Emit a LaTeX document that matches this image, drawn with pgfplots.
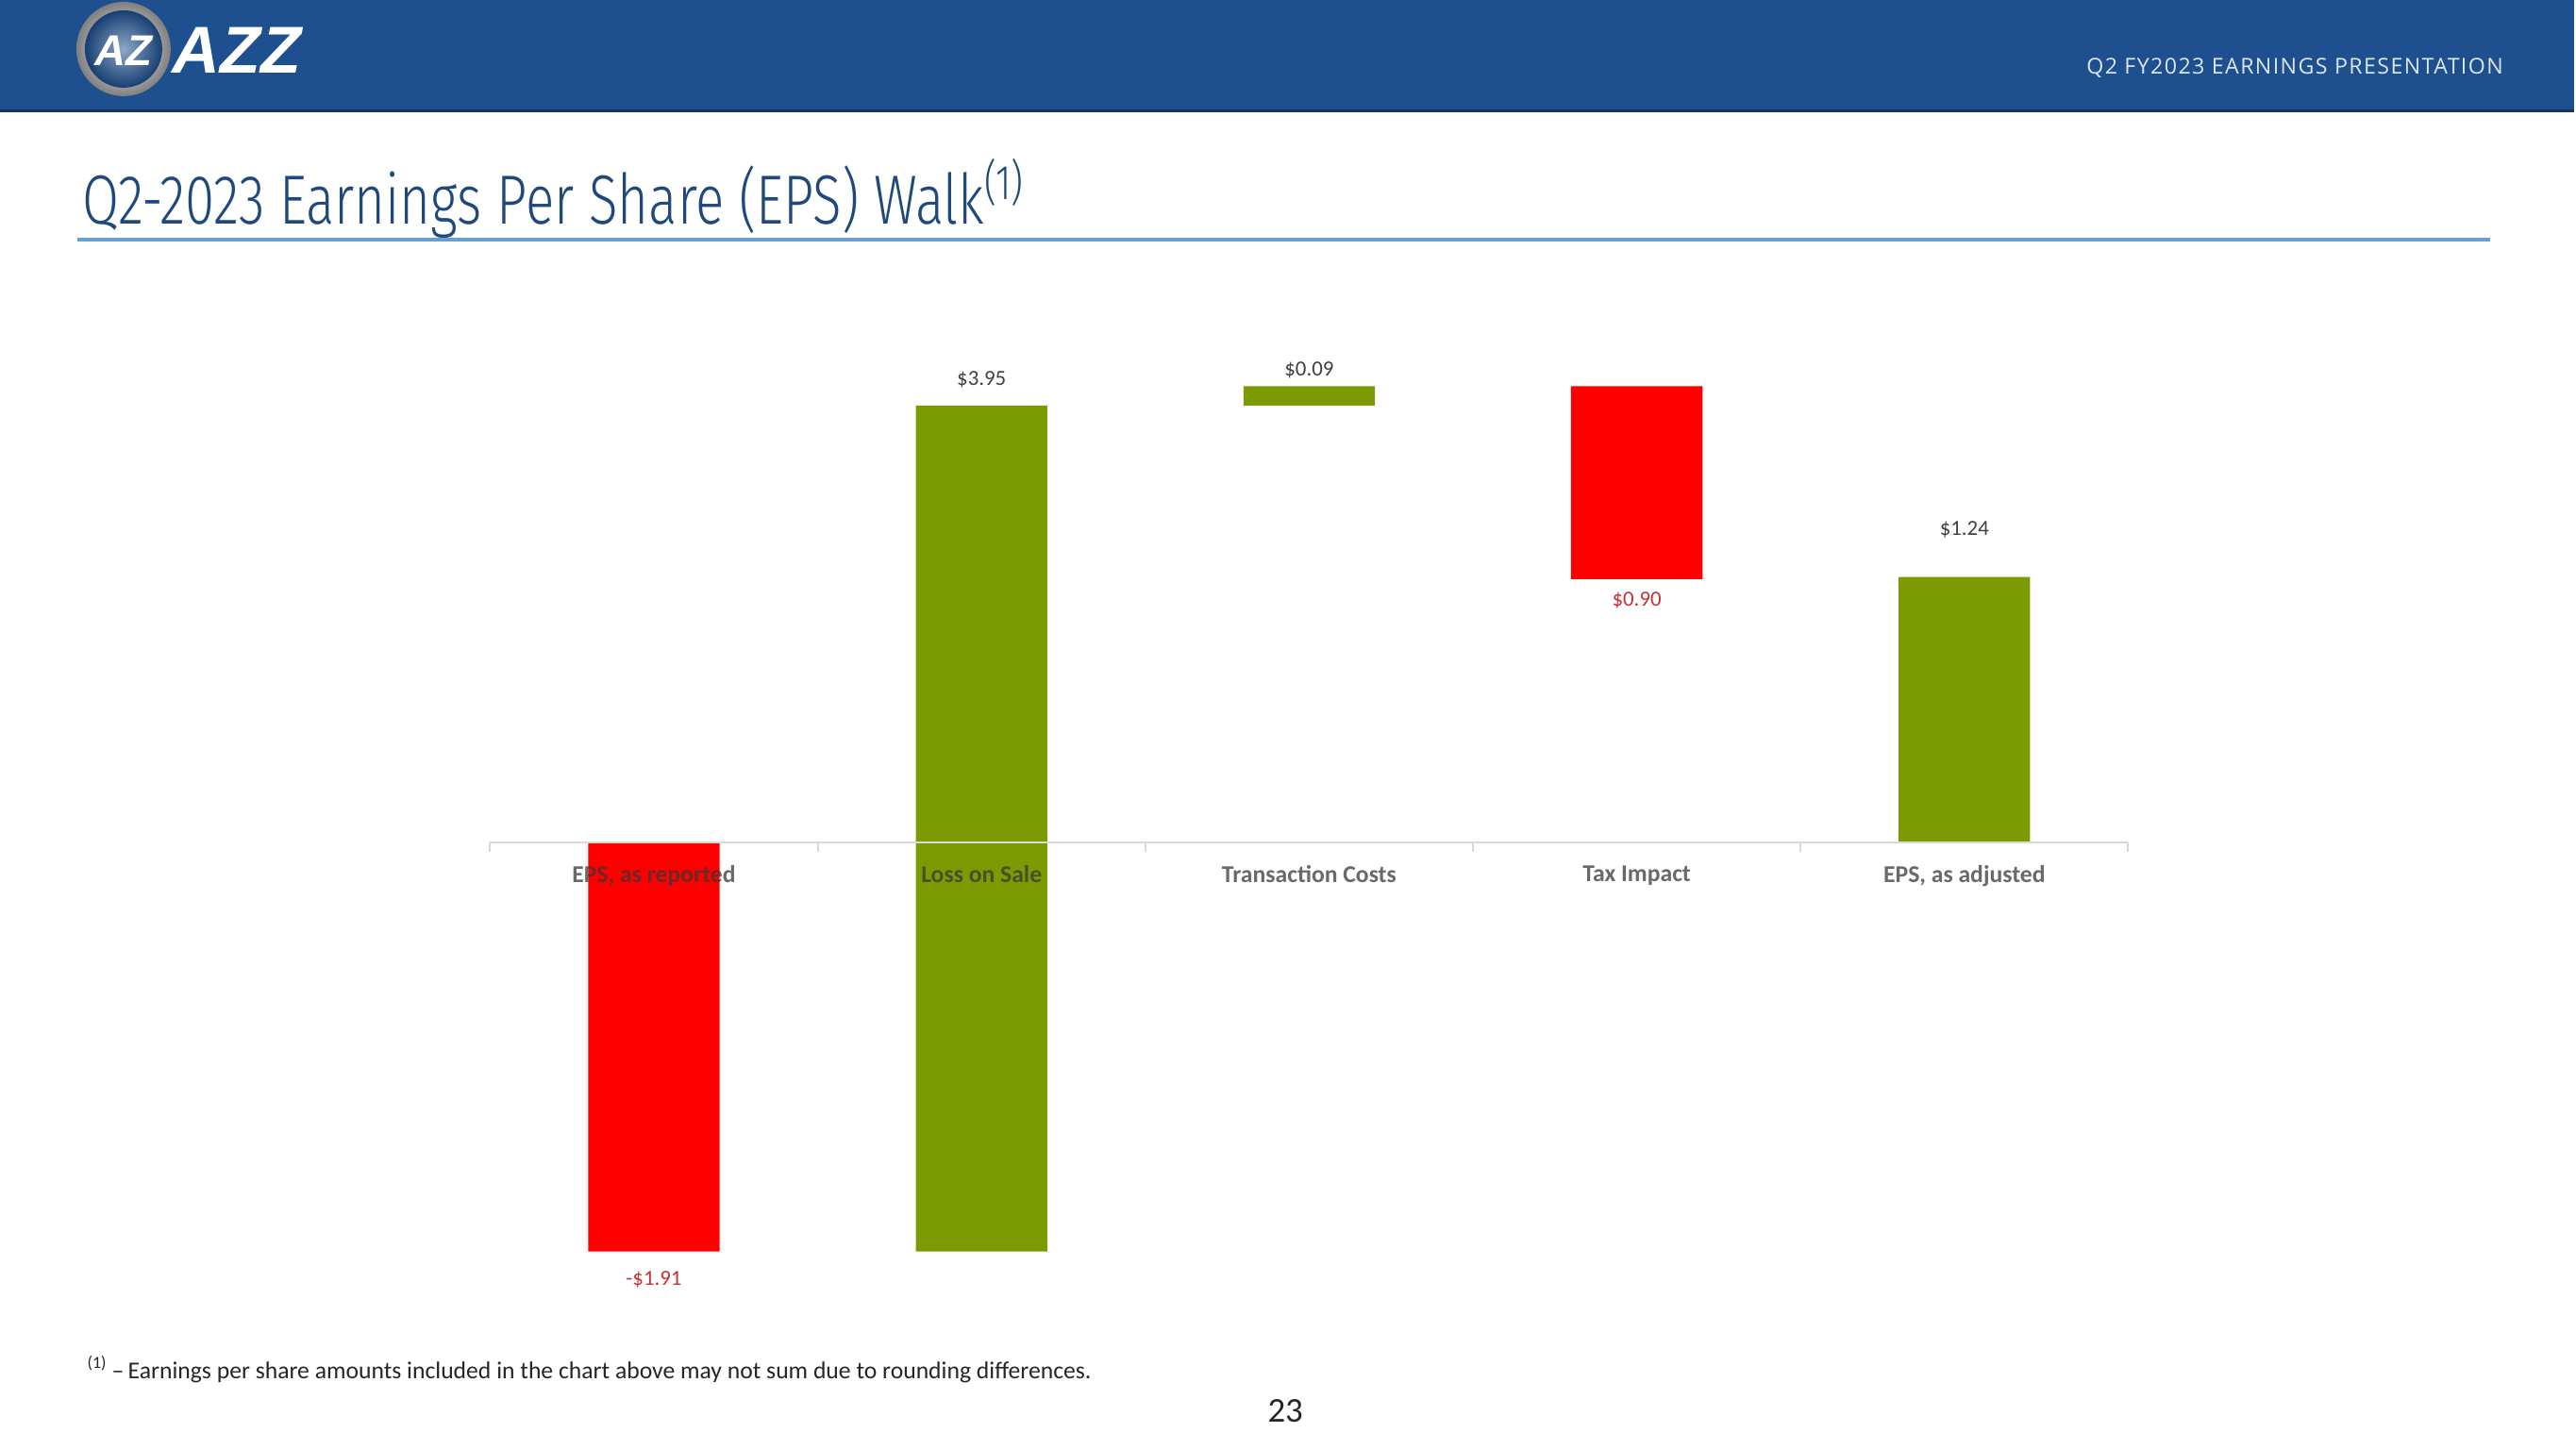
\documentclass[border=0pt]{standalone}
\usepackage{pgfplots}
\pgfplotsset{compat=1.18}
\usepackage{fontspec}
\setmainfont{Carlito}
\newfontfamily\titlefont[FakeStretch=0.765]{Fira Sans Light}
\newfontfamily\hdrfont[LetterSpace=6]{Open Sans}
\newfontfamily\logofont{Liberation Sans}
\definecolor{headerblue}{RGB}{30,79,143}
\definecolor{titleblue}{RGB}{31,73,125}
\definecolor{ruleblue}{RGB}{100,160,215}
\definecolor{bargreen}{RGB}{124,154,2}
\definecolor{barred}{RGB}{255,0,0}
\definecolor{labelgray}{RGB}{55,55,55}
\definecolor{valgray}{RGB}{64,64,64}
\definecolor{valred}{RGB}{200,50,50}
\definecolor{axisgray}{RGB}{217,217,217}
\definecolor{hdrtext}{RGB}{220,230,242}
\begin{document}
\begin{tikzpicture}
\path[use as bounding box, fill=white] (0,0) rectangle (27.3cm,15.35cm);
\begin{scope}[x=0.01cm, y=-0.01cm, shift={(0,15.35cm)}]
  % header
  \fill[headerblue] (0,0) rectangle (2730,118);
  \draw[headerblue!70!black, line width=0.03cm] (0,118) -- (2730,118);
  % logo
  \shade[inner color=white, outer color=gray] (131,52) circle (50);
  \shade[inner color=headerblue!50!white, outer color=headerblue!80!black] (131,52) circle (41);
  \node[text=white, font=\logofont\bfseries\itshape\fontsize{13}{13}\selectfont] at (131,54) {AZ};
  \node[anchor=base west, inner sep=0, text=white, font=\logofont\bfseries\itshape\fontsize{20}{20}\selectfont] at (182,78) {AZZ};
  \node[anchor=base east, inner sep=0, text=hdrtext, font=\hdrfont\fontsize{6.6}{7}\selectfont] at (2655,79) {Q2 FY2023 EARNINGS PRESENTATION};
  % title
  \node[anchor=base west, inner sep=0, text=titleblue, font=\titlefont\fontsize{21}{21}\selectfont] at (87,238) {Q2-2023 Earnings Per Share (EPS) Walk\textsuperscript{(1)}};
  \draw[ruleblue, line width=0.035cm] (82,254) -- (2641,254);
  % footnote
  \node[anchor=base west, inner sep=0, text=black!85, font=\fontsize{7.3}{8}\selectfont] at (92,1462) {\textsuperscript{(1)}\,–\,Earnings per share amounts included in the chart above may not sum due to rounding differences.};
  \node[anchor=base, inner sep=0, text=black!85, font=\fontsize{10.5}{12}\selectfont] at (1363,1508) {23};
\end{scope}

\begin{axis}[
  at={(6.93cm,6.42cm)}, anchor=origin,
  x=3.472cm, y=2.27cm,
  xmin=-0.5, xmax=4.5, ymin=-2.2, ymax=2.3,
  ybar stacked, stack negative=on previous, bar width=1.393cm,
  axis x line=middle, axis y line=none,
  axis on top,
  axis line style={draw=axisgray, line width=0.57pt, -},
  hide obscured x ticks=false,
  tick align=outside,
  xtick={0,1,2,3,4},
  xticklabels={{EPS, as reported},{Loss on Sale},{Transaction Costs},{Tax Impact},{EPS, as adjusted}},
  major tick length=0pt,
  extra x ticks={-0.5,0.5,1.5,2.5,3.5,4.5},
  extra x tick labels={},
  extra x tick style={major tick length=0.1cm, tick style={draw=axisgray, line width=0.57pt}},
  ytick=\empty,
  xticklabel style={font=\bfseries\fontsize{7.3}{8}\selectfont, text=labelgray, text opacity=0.75, yshift=-0.12cm},
  clip=false,
]
\addplot[draw=none, fill=none] coordinates {(0,0) (1,-1.91) (2,2.04) (3,2.13) (4,0)};
\addplot[draw=none, fill=barred] coordinates {(0,-1.91) (1,0) (2,0) (3,-0.90) (4,0)};
\addplot[draw=none, fill=bargreen] coordinates {(0,0) (1,3.95) (2,0.09) (3,0) (4,1.24)};
\node[text=valred, font=\fontsize{6.5}{7}\selectfont] at (axis cs:0,-1.91) [yshift=-0.3cm] {-\$1.91};
\node[text=valgray, font=\fontsize{6.5}{7}\selectfont] at (axis cs:1,2.04) [yshift=0.28cm] {\$3.95};
\node[text=valgray, font=\fontsize{6.5}{7}\selectfont] at (axis cs:2,2.13) [yshift=0.17cm] {\$0.09};
\node[text=valred, font=\fontsize{6.5}{7}\selectfont] at (axis cs:3,1.23) [yshift=-0.23cm] {\$0.90};
\node[text=valgray, font=\fontsize{6.5}{7}\selectfont] at (axis cs:4,1.24) [yshift=0.5cm] {\$1.24};
\end{axis}
\end{tikzpicture}
\end{document}
